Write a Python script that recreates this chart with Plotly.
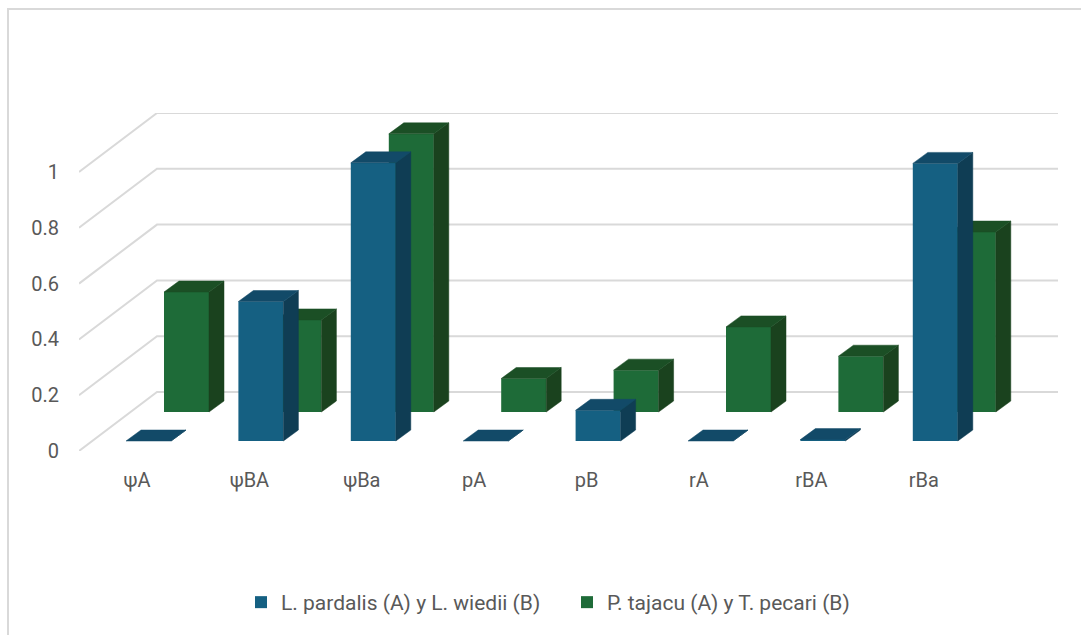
import plotly.graph_objects as go

categories = ["ψA", "ψBA", "ψBa", "pA", "pB", "rA", "rBA", "rBa"]
series_a_name = "L. pardalis (A) y L. wiedii (B)"
series_b_name = "P. tajacu (A) y T. pecari (B)"
series_a_values = [0, 0.50, 0.997, 0, 0.11, 0, 0.005, 0.995]
series_b_values = [0.43, 0.33, 0.997, 0.12, 0.15, 0.305, 0.20, 0.645]
y_ticks = [0, 0.2, 0.4, 0.6, 0.8, 1]
y_tick_labels = ["0", "0.2", "0.4", "0.6", "0.8", "1"]

W, H = 1081, 635
LEFT, RIGHT, TOP, BOTTOM = 79, 1058, 113, 451
STEP = 112.4      # pixels per category
UNIT = 279.0      # pixels per value unit
X_ZERO = 137      # pixel centre of the first category label

# oblique projection of the floor and the bar depth, in axis units
WALL_DX, WALL_DY = 78 / STEP, 59 / UNIT
BAR_DX, BAR_DY = 15 / STEP, 11 / UNIT
BAR_W = 45 / STEP
A_OFFSET, A_BASE = 11.5 / STEP, 10 / UNIT
B_OFFSET, B_BASE = 49.5 / STEP, 39 / UNIT

x_lo = (LEFT - X_ZERO) / STEP
x_hi = (RIGHT - X_ZERO) / STEP
y_hi = (BOTTOM - TOP) / UNIT

GRID = "#d9d9d9"
TEXT = "#595959"
FONT = "Roboto"
FONT_SIZE = 20


def faces(values, offset, base):
    """Polygon outlines for the side and top faces of a row of bars."""
    sx, sy, tx, ty = [], [], [], []
    for i, v in enumerate(values):
        x0 = i + offset - BAR_W / 2
        x1 = i + offset + BAR_W / 2
        y0, y1 = base, base + v
        sx += [x1, x1 + BAR_DX, x1 + BAR_DX, x1, x1, None]
        sy += [y0, y0 + BAR_DY, y1 + BAR_DY, y1, y0, None]
        tx += [x0, x0 + BAR_DX, x1 + BAR_DX, x1, x0, None]
        ty += [y1, y1 + BAR_DY, y1 + BAR_DY, y1, y1, None]
    return sx, sy, tx, ty


def add_row(fig, name, values, offset, base, front, side, top, xa, ya, rank):
    fig.add_bar(
        x=[i + offset for i in range(len(values))], y=values, base=base,
        width=BAR_W, name=name, marker=dict(color=front, line=dict(width=0)),
        xaxis=xa, yaxis=ya, legendrank=rank, hoverinfo="skip",
    )
    sx, sy, tx, ty = faces(values, offset, base)
    for px, py, col in ((sx, sy, side), (tx, ty, top)):
        fig.add_scatter(
            x=px, y=py, mode="lines", fill="toself", fillcolor=col,
            line=dict(color=col, width=0.5), showlegend=False,
            xaxis=xa, yaxis=ya, hoverinfo="skip",
        )


fig = go.Figure()

# side wall and back wall gridlines stay on the base axes
grid_x, grid_y = [], []
for t in y_ticks:
    grid_x += [x_lo, x_lo + WALL_DX, x_hi, None]
    grid_y += [t, t + WALL_DY, t + WALL_DY, None]
fig.add_scatter(x=grid_x, y=grid_y, mode="lines", line=dict(color=GRID, width=2),
                showlegend=False, hoverinfo="skip")

# each row of bars gets its own overlay so the front row hides the back row
add_row(fig, series_b_name, series_b_values, B_OFFSET, B_BASE,
        "#1e6b38", "#1a421e", "#1b4f25", "x2", "y2", 2)
add_row(fig, series_a_name, series_a_values, A_OFFSET, A_BASE,
        "#156082", "#0f3d54", "#124a68", "x3", "y3", 1)


def px_x(p):
    return (p - LEFT) / (RIGHT - LEFT)


def px_y(p):
    return (BOTTOM - p) / (BOTTOM - TOP)


tick_font = dict(size=FONT_SIZE, color=TEXT, family=FONT)

fig.update_layout(
    width=W, height=H, autosize=False,
    margin=dict(l=LEFT, r=W - RIGHT, t=TOP, b=H - BOTTOM),
    paper_bgcolor="white", plot_bgcolor="white",
    barmode="overlay",
    font=dict(family=FONT, color=TEXT, size=FONT_SIZE),
    xaxis=dict(range=[x_lo, x_hi], tickmode="array",
               tickvals=list(range(len(categories))), ticktext=categories,
               showgrid=False, zeroline=False, showline=False, ticks="",
               ticklabelstandoff=15, tickfont=tick_font),
    yaxis=dict(range=[0, y_hi], tickmode="array", tickvals=y_ticks,
               ticktext=y_tick_labels, showgrid=False, zeroline=False,
               showline=False, ticks="", ticklabelstandoff=19, tickfont=tick_font),
    xaxis2=dict(range=[x_lo, x_hi], overlaying="x", visible=False),
    yaxis2=dict(range=[0, y_hi], overlaying="y", visible=False),
    xaxis3=dict(range=[x_lo, x_hi], overlaying="x", visible=False),
    yaxis3=dict(range=[0, y_hi], overlaying="y", visible=False),
    legend=dict(orientation="h", xanchor="center", yanchor="middle",
                x=px_x(567), y=px_y(602.5),
                font=dict(size=21, color=TEXT, family=FONT),
                entrywidth=281, entrywidthmode="pixels",
                bgcolor="rgba(0,0,0,0)", itemclick=False, itemdoubleclick=False),
    # only the top and left edges of the chart frame fall inside the page
    shapes=[dict(type="rect", xref="paper", yref="paper",
                 x0=px_x(8), x1=px_x(1095), y0=px_y(9), y1=px_y(650),
                 line=dict(color=GRID, width=2), fillcolor="rgba(0,0,0,0)")],
)

fig.write_html("out.html", config=dict(displayModeBar=False))
